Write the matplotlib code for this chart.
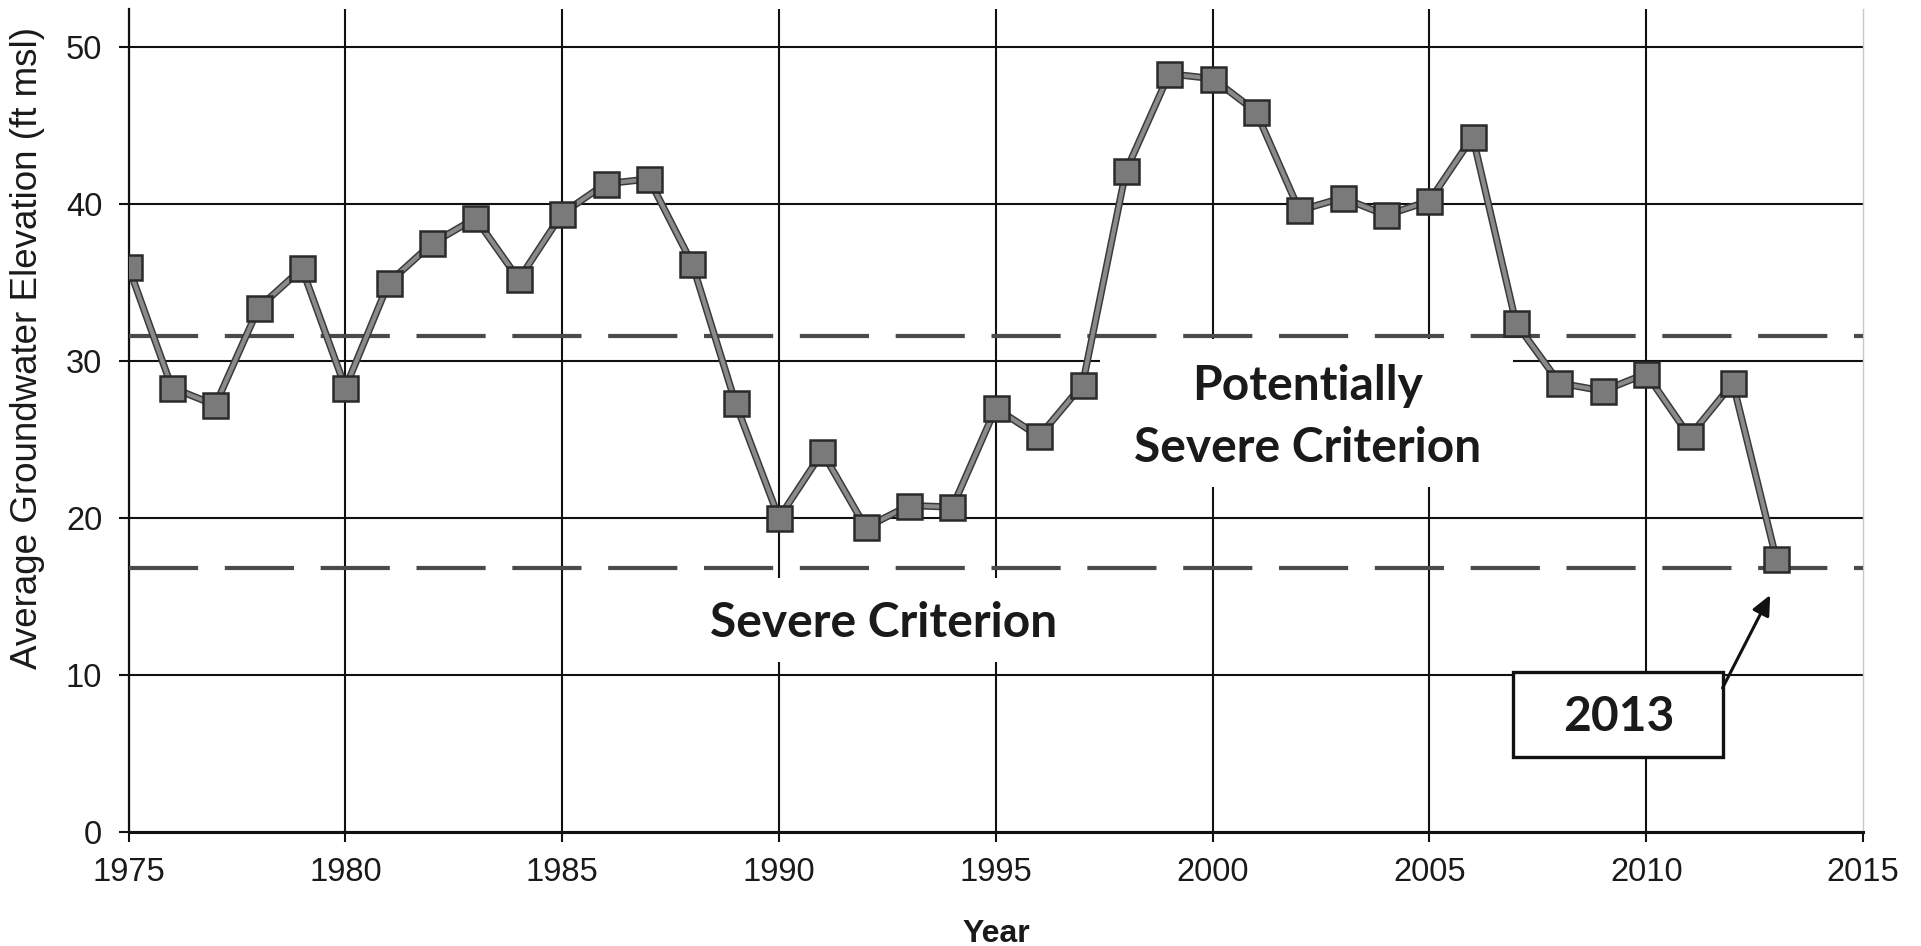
import matplotlib
matplotlib.use("Agg")
import matplotlib.pyplot as plt
from matplotlib.patches import Rectangle

# ---- data ----
years = list(range(1975, 2014))
elevation = [36.0, 28.3, 27.2, 33.4, 35.9, 28.3, 35.0, 37.5, 39.1, 35.2,
             39.4, 41.3, 41.6, 36.2, 27.3, 20.0, 24.2, 19.4, 20.8, 20.7,
             27.0, 25.2, 28.5, 42.1, 48.3, 48.0, 45.9, 39.6, 40.4, 39.3,
             40.2, 44.3, 32.4, 28.6, 28.1, 29.2, 25.2, 28.6, 17.4]
potentially_severe = 31.6
severe = 16.8
x_ticks = [1975, 1980, 1985, 1990, 1995, 2000, 2005, 2010, 2015]
y_ticks = [0, 10, 20, 30, 40, 50]

W, H = 1921, 946
fig = plt.figure(figsize=(W / 100, H / 100), dpi=100)
left, right, bottom, top = 128.6, 1863.0, 832.0, 9.5
ax = fig.add_axes([left / W, 1 - bottom / H, (right - left) / W, (bottom - top) / H])

ax.set_xlim(1975, 2015)
ax.set_ylim(0, 52.4)
ax.set_xticks(x_ticks)
ax.set_yticks(y_ticks)
ax.set_axisbelow(True)
ax.grid(True, color="#111111", lw=1.5)
ax.xaxis.get_gridlines()[-1].set_visible(False)

ax.spines["top"].set_visible(False)
ax.spines["right"].set_color("#c8c8c8")
ax.spines["right"].set_linewidth(1.0)
ax.spines["left"].set_color("#111111")
ax.spines["left"].set_linewidth(1.6)
ax.spines["bottom"].set_color("#111111")
ax.spines["bottom"].set_linewidth(2.2)

tick_font = "Liberation Sans"
ax.tick_params(axis="both", direction="out", length=7, width=1.5, color="#111111",
               labelsize=23.5, labelcolor="#1a1a1a")
ax.tick_params(axis="x", pad=11)
ax.tick_params(axis="y", pad=12)
for lbl in ax.get_xticklabels() + ax.get_yticklabels():
    lbl.set_family(tick_font)

# threshold dashed lines
for lvl in (potentially_severe, severe):
    ax.axhline(lvl, color="#4a4a4a", lw=3.0, dashes=(16.6, 6.4),
               dash_capstyle="butt", zorder=3)

# series: dark outline line, gray core, square markers
ax.plot(years, elevation, color="#3a3a3a", lw=5.2, solid_joinstyle="round",
        solid_capstyle="round", zorder=4)
ax.plot(years, elevation, color="#8a8a8a", lw=3.0, solid_joinstyle="round",
        solid_capstyle="round", zorder=4.1)
ax.plot(years, elevation, ls="none", marker="s", ms=18, mfc="#7a7a7a",
        mec="#2a2a2a", mew=1.8, zorder=5)

lab_font = dict(family=["Lato", "DejaVu Sans"], fontweight="bold", fontsize=34.5,
                color="#1a1a1a")

# white background boxes for labels (hide gridlines)
ax.add_patch(Rectangle((1997.4, 21.97), 9.53, 9.43, facecolor="white",
                       edgecolor="none", zorder=2))
ax.add_patch(Rectangle((1987.65, 10.8), 9.55, 5.4, facecolor="white",
                       edgecolor="none", zorder=2))

ax.text(2002.2, 27.5, "Potentially", ha="center", va="baseline", zorder=3, **lab_font)
ax.text(2002.2, 23.57, "Severe Criterion", ha="center", va="baseline", zorder=3, **lab_font)
ax.text(1992.4, 12.42, "Severe Criterion", ha="center", va="baseline", zorder=3, **lab_font)

# 2013 callout box
ax.add_patch(Rectangle((2006.93, 4.78), 4.85, 5.41, facecolor="white",
                       edgecolor="#111111", lw=2.4, zorder=6))
ax.text(2009.36, 6.43, "2013", ha="center", va="baseline", zorder=7, **lab_font)
ax.annotate("", xy=(2012.86, 15.1), xytext=(2011.76, 9.17),
            arrowprops=dict(arrowstyle="-|>,head_length=1.2,head_width=0.55",
                            color="#111111", lw=2.2, shrinkA=0, shrinkB=0),
            zorder=7)

fig.text(996 / W, 1 - 934 / H, "Year", ha="center", va="center",
         family="Liberation Sans", fontweight="bold", fontsize=23, color="#1a1a1a")
fig.text(28 / W, 1 - 348 / H, "Average Groundwater Elevation (ft msl)", ha="center",
         va="center", rotation=90, family="Liberation Sans",
         fontsize=26.5, color="#1a1a1a")

fig.savefig("out.png", dpi=100, facecolor="white")
